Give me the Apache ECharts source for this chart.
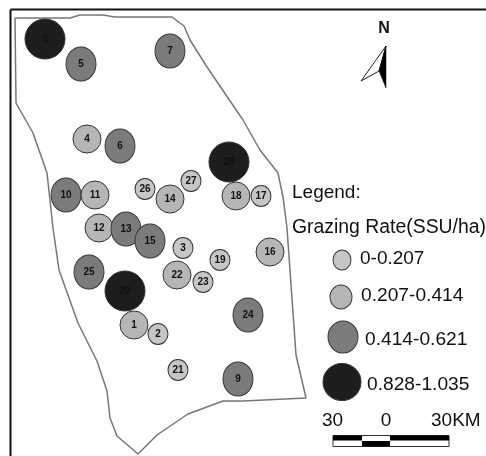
<!DOCTYPE html>
<html><head><meta charset="utf-8">
<style>html,body{margin:0;padding:0;background:#fff}#c{width:486px;height:456px}</style>
<script src="https://cdn.jsdelivr.net/npm/echarts@6/dist/echarts.min.js"></script>
</head><body><div id="c"></div>
<script>
const bubbleIds   = [8,5,7,4,6,28,10,11,26,27,14,18,17,12,13,15,3,19,22,23,25,20,1,2,21,9,16,24];
const bubbleX     = [45,81,170,87,120,229,66,95,145,191,170,236,261,99,126,150,183,220,177,203,89,125,134,158,178,238,270,248];
const bubbleY     = [39,64,51,139,146,162,195,195,189,181,199,196,196,228,229,241,248,260,275,282,272,291,325,334,370,379,252,315];
const bubbleClass = [3,2,2,1,2,3,2,1,0,0,1,1,0,1,2,2,0,0,1,0,2,3,1,0,0,2,1,2];
const classLabels = ['0-0.207','0.207-0.414','0.414-0.621','0.828-1.035'];
const legendX = [342,341,343,342];
const legendY = [260,297,337,382];
const boundaryX = [15,70,80,103,115,172,184,190,207,243,260,278,283,286,287,296,306,243,223,188,157,138,117,110,107,97,78,59,53,47,33,16,15];
const boundaryY = [18,18,15,15,17,17,26,40,67,120,150,173,197,220,228,355,398,401,401,414,435,454,436,418,391,361,323,270,228,173,133,103,18];

const classSize  = [[20,21],[28,28],[30,34],[40,40]];
const legendSize = [[18,20],[22,24],[30,32],[38,37]];
const classFill  = ['#c6c6c6','#b6b6b6','#7b7b7b','#1d1d1d'];
const circle = 'path://M0,-1A1,1 0 1 1 0,1A1,1 0 1 1 0,-1Z';

const font = '"Liberation Sans", Arial, sans-serif';
const txt = (x,y,s,size,extra) => ({type:'text',x,y,z:10,style:Object.assign({text:s,fill:'#111',font:size+'px '+font,textVerticalAlign:'middle'},extra||{})});

const chart = echarts.init(document.getElementById('c'),null,{renderer:'canvas'});
chart.setOption({
  animation:false,
  backgroundColor:'#fff',
  grid:{left:0,right:0,top:0,bottom:0},
  xAxis:{type:'value',min:0,max:486,show:false},
  yAxis:{type:'value',min:0,max:456,inverse:true,show:false},
  series:[
    {type:'line',symbol:'none',silent:true,z:1,
     data:boundaryX.map((x,i)=>[x,boundaryY[i]]),
     lineStyle:{color:'#777',width:1.5}},
    {type:'scatter',z:3,silent:true,
     data:bubbleIds.map((id,i)=>({value:[bubbleX[i],bubbleY[i],id],
       symbolSize:classSize[bubbleClass[i]],
       itemStyle:{color:classFill[bubbleClass[i]]}})),
     symbol:circle,
     itemStyle:{borderColor:'#333',borderWidth:1,opacity:1},
     label:{show:true,position:'inside',formatter:p=>String(p.value[2]),
       color:'#111',fontFamily:font,fontWeight:'bold',fontSize:10}},
    {type:'scatter',z:3,silent:true,symbol:circle,
     data:classLabels.map((c,i)=>({value:[legendX[i],legendY[i]],symbolSize:legendSize[i],itemStyle:{color:classFill[i]}})),
     itemStyle:{borderColor:'#333',borderWidth:1,opacity:1}}
  ],
  graphic:[
    {type:'line',z:9,shape:{x1:10.5,y1:9.5,x2:486,y2:9.5},style:{stroke:'#111',lineWidth:2}},
    {type:'line',z:9,shape:{x1:10.5,y1:9.5,x2:10.5,y2:456},style:{stroke:'#111',lineWidth:2}},
    txt(384,29,'N',16,{font:'bold 16px '+font,textAlign:'center'}),
    {type:'polygon',z:9,shape:{points:[[386,46],[361,81],[379,71]]},style:{fill:'#fff',stroke:'#222',lineWidth:1}},
    {type:'polygon',z:9,shape:{points:[[386,46],[379,71],[386,88]]},style:{fill:'#000',stroke:'#000',lineWidth:0.5}},
    txt(292,193,'Legend:',19),
    txt(292,228,'Grazing Rate(SSU/ha)',19.4),
    txt(360,259,classLabels[0],19),
    txt(361,296,classLabels[1],19.2),
    txt(365,340,classLabels[2],19.2),
    txt(367,385,classLabels[3],19.2),
    txt(322,421,'30',19),
    txt(386,421,'0',19,{textAlign:'center'}),
    txt(431,421,'30KM',19),
    {type:'rect',z:9,shape:{x:333,y:435.5,width:116,height:11},style:{fill:'#fff',stroke:'#333',lineWidth:1}},
    {type:'rect',z:10,shape:{x:333,y:435.5,width:29,height:5},style:{fill:'#000'}},
    {type:'rect',z:10,shape:{x:362,y:441,width:28,height:5.5},style:{fill:'#000'}},
    {type:'rect',z:10,shape:{x:390,y:435.5,width:59,height:5},style:{fill:'#000'}}
  ]
});
</script></body></html>
